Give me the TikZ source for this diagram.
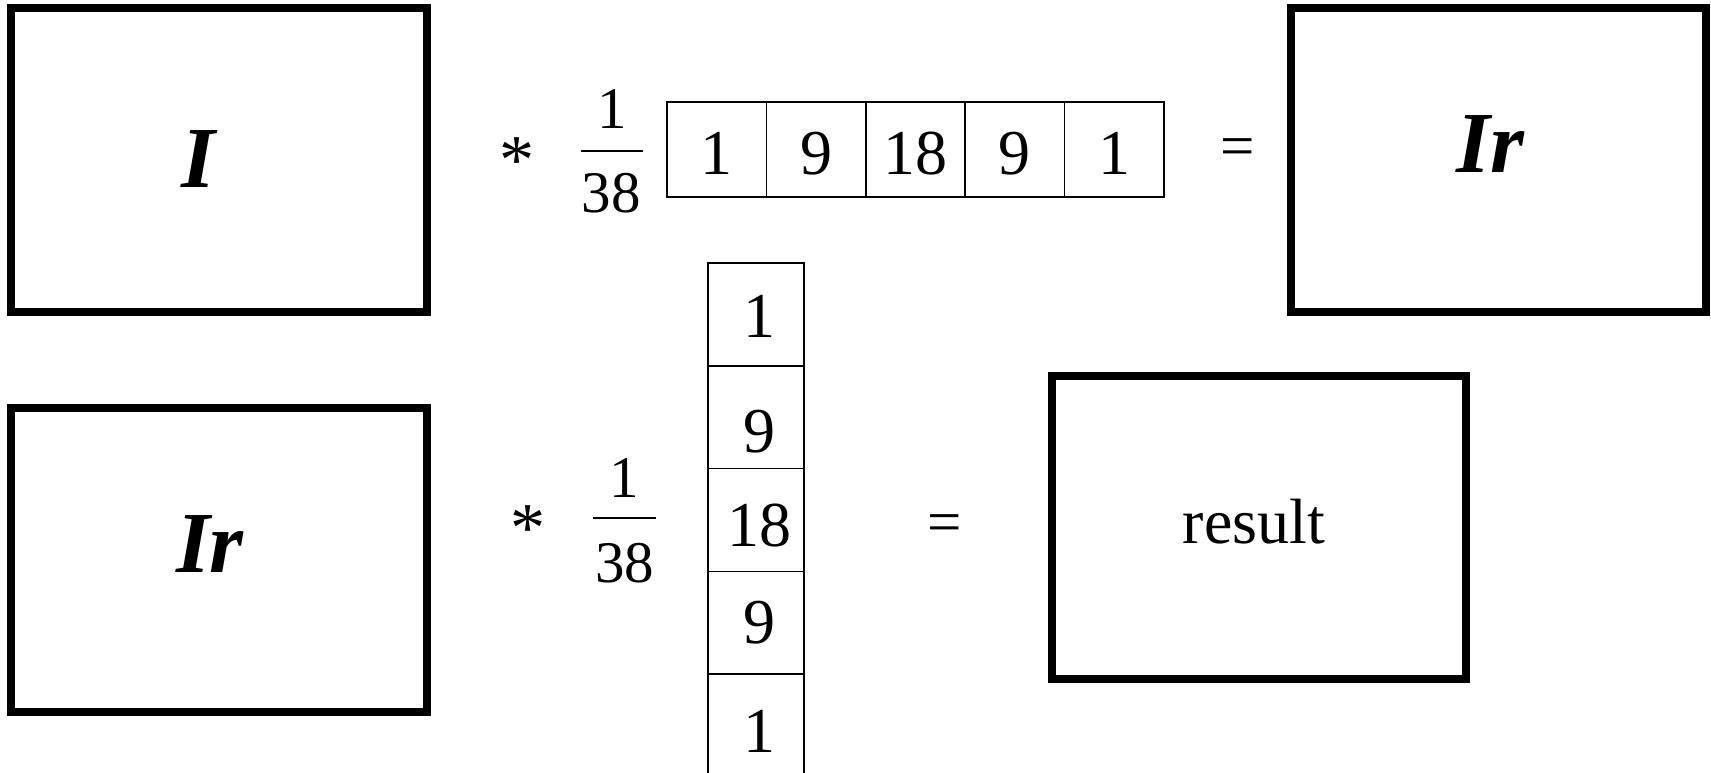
\documentclass[tikz,border=0pt]{standalone}
\usepackage{fontspec}
\setmainfont{Liberation Serif}
\begin{document}
\begin{tikzpicture}[x=1pt,y=-1pt,
  bigbox/.style={draw, line width=8pt, inner sep=0pt, minimum width=416pt, minimum height=304pt},
  cell/.style={draw, line width=1.6pt, inner sep=0pt},
  hcell/.style={cell, minimum width=99.4pt, minimum height=95pt},
  vcell/.style={cell, minimum width=96pt, minimum height=102.8pt},
  num/.style={anchor=base, inner sep=0pt, font=\fontsize{64}{70}\selectfont},
  fracnum/.style={anchor=base, inner sep=0pt, font=\fontsize{59}{66}\selectfont},
  lbl/.style={anchor=base, inner sep=0pt, font=\fontsize{87}{96}\selectfont\bfseries\itshape},
  opstar/.style={anchor=base, inner sep=0pt, font=\fontsize{70}{76}\selectfont},
  opeq/.style={anchor=base, inner sep=0pt, font=\fontsize{61}{68}\selectfont},
  fracbar/.style={line width=2.6pt}]
\useasboundingbox (0,0) rectangle (1711,773);

% big boxes
\node[bigbox] (boxI) at (219,160) {};
\node[bigbox, minimum width=415pt] (boxIr) at (1498.5,160) {};
\node[bigbox] (boxIrb) at (219,560) {};
\node[bigbox, minimum width=414pt, minimum height=303pt] (boxRes) at (1259,527.5) {};

% labels in the boxes
\node[lbl] (tI) at (198,187) {I};
\node[lbl] (tIr) at (1490,172) {Ir};
\node[lbl] (tIrb) at (210,572) {Ir};
\node[num] (tRes) at (1254,543) {result};

% top row operators
\node[opstar] (star1) at (517,183.5) {*};
\node[fracnum] (fn1) at (612,129) {1};
\node[fracnum] (fd1) at (611,212) {38};
\coordinate (fb1l) at (581,151);
\coordinate (fb1r) at (643,151);
\draw[fracbar] (fb1l) -- (fb1r);
\node[opeq] (eq1) at (1238,167) {=};

% horizontal kernel
\foreach \i/\cx/\d in {1/716.7/1, 2/816.1/9, 3/915.5/18, 4/1014.9/9, 5/1114.3/1} {
  \node[hcell] (h\i) at (\cx,149.5) {};
  \node[num] (hd\i) at (\cx,175) {\d};
}

% bottom row operators
\node[opstar] (star2) at (528,551) {*};
\node[fracnum] (fn2) at (624,497) {1};
\node[fracnum] (fd2) at (624.5,582) {38};
\coordinate (fb2l) at (593,518);
\coordinate (fb2r) at (656,518);
\draw[fracbar] (fb2l) -- (fb2r);
\node[opeq] (eq2) at (945,542.4) {=};

% vertical kernel
\foreach \i/\cy/\by/\d in {1/314.4/337/1, 2/417.2/452/9, 3/520/546/18, 4/622.8/643/9, 5/725.6/752/1} {
  \node[vcell] (v\i) at (756,\cy) {};
  \node[num] (vd\i) at (759,\by) {\d};
}
\end{tikzpicture}
\end{document}
